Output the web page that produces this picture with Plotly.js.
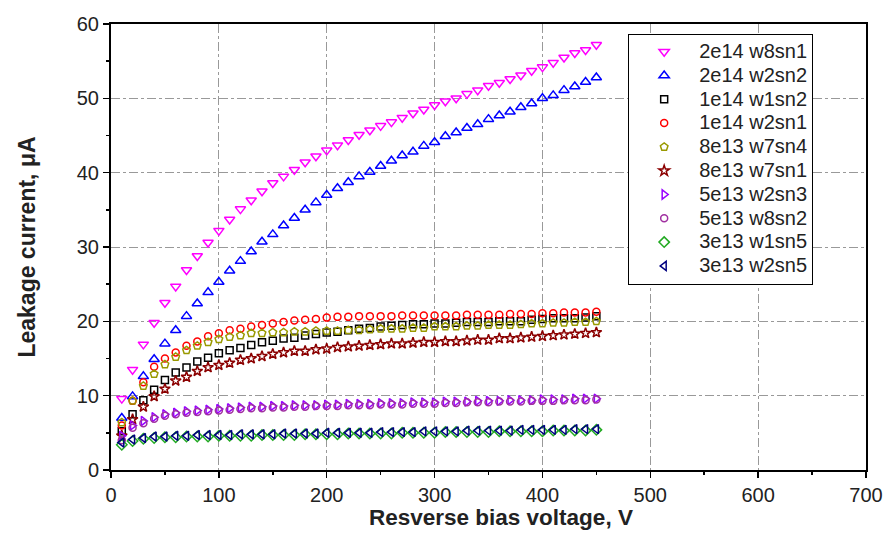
<!DOCTYPE html>
<html>
<head>
<meta charset="utf-8">
<script src="https://cdn.plot.ly/plotly-3.0.1.min.js"></script>
<style>html,body{margin:0;padding:0;background:#fff;}#chart{width:885px;height:550px;}</style>
</head>
<body>
<div id="chart"></div>
<script>
// Reverse bias voltage (V)
var voltage = [10,20,30,40,50,60,70,80,90,100,110,120,130,140,150,160,170,180,190,200,210,220,230,240,250,260,270,280,290,300,310,320,330,340,350,360,370,380,390,400,410,420,430,440,450];

// Leakage current (uA) per sample
var s_2e14_w8sn1 = [9.6,13.5,16.9,19.8,22.5,24.7,26.9,28.8,30.6,32.2,33.7,35.1,36.3,37.5,38.6,39.5,40.4,41.4,42.2,43.0,43.7,44.4,45.1,45.7,46.3,46.8,47.4,48.0,48.5,49.1,49.6,50.0,50.6,51.1,51.7,52.1,52.6,53.1,53.7,54.2,54.8,55.5,56.1,56.5,57.2];
var s_2e14_w2sn2 = [7.0,9.9,12.6,14.9,17.0,18.8,20.7,22.4,23.9,25.3,26.8,28.1,29.4,30.7,31.7,32.9,33.9,35.0,36.0,37.0,37.9,38.7,39.5,40.1,40.9,41.6,42.3,42.8,43.6,44.1,44.9,45.4,46.0,46.5,47.2,47.7,48.2,48.8,49.3,50.0,50.4,51.1,51.6,52.2,52.8];
var s_1e14_w1sn2 = [5.2,7.5,9.4,10.8,12.1,13.1,13.8,14.6,15.1,15.7,16.1,16.4,16.8,17.2,17.4,17.7,17.8,18.1,18.3,18.5,18.6,18.8,19.0,19.1,19.3,19.4,19.5,19.6,19.6,19.7,19.7,19.8,19.9,19.9,19.9,20.0,20.0,20.0,20.2,20.3,20.4,20.4,20.4,20.5,20.7];
var s_1e14_w2sn1 = [6.0,9.3,11.8,13.9,15.0,15.8,16.7,17.3,18.0,18.4,18.8,19.0,19.3,19.5,19.7,19.9,20.1,20.2,20.3,20.5,20.6,20.6,20.7,20.7,20.7,20.7,20.8,20.8,20.8,20.8,20.8,20.8,20.9,20.9,20.9,20.9,21.0,21.0,21.0,21.1,21.1,21.2,21.2,21.2,21.3];
var s_8e13_w7sn4 = [6.4,9.3,11.3,12.9,14.2,15.2,16.1,16.7,17.2,17.6,17.9,18.1,18.4,18.4,18.5,18.5,18.6,18.6,18.7,18.7,18.7,18.8,18.8,18.9,19.0,19.0,19.0,19.1,19.1,19.3,19.3,19.3,19.4,19.4,19.5,19.5,19.5,19.6,19.7,19.7,19.8,19.8,19.9,19.9,20.0];
var s_8e13_w7sn1 = [4.6,6.8,8.5,9.9,10.9,12.0,12.5,13.3,13.8,14.1,14.4,14.8,15.0,15.3,15.6,15.8,16.0,16.0,16.2,16.3,16.5,16.6,16.7,16.8,16.9,17.0,17.0,17.1,17.2,17.2,17.3,17.3,17.4,17.5,17.5,17.7,17.7,17.8,17.9,18.0,18.1,18.2,18.3,18.4,18.5];
var s_5e13_w2sn3 = [4.6,6.0,6.6,7.1,7.5,7.7,7.9,8.0,8.1,8.2,8.3,8.4,8.5,8.5,8.6,8.6,8.7,8.7,8.7,8.8,8.8,8.9,8.9,8.9,9.0,9.0,9.0,9.1,9.1,9.1,9.2,9.2,9.2,9.3,9.3,9.3,9.4,9.4,9.4,9.5,9.5,9.5,9.6,9.6,9.6];
var s_5e13_w8sn2 = [4.0,5.7,6.3,6.9,7.3,7.5,7.7,7.8,7.9,8.0,8.1,8.2,8.3,8.3,8.4,8.4,8.5,8.5,8.6,8.6,8.6,8.7,8.7,8.7,8.8,8.8,8.8,8.9,8.9,8.9,9.0,9.0,9.1,9.1,9.1,9.2,9.2,9.2,9.3,9.3,9.3,9.4,9.4,9.4,9.5];
var s_3e13_w1sn5 = [3.4,3.9,4.2,4.3,4.4,4.4,4.5,4.5,4.5,4.6,4.6,4.6,4.6,4.7,4.7,4.7,4.7,4.8,4.8,4.8,4.8,4.9,4.9,4.9,4.9,4.9,5.0,5.0,5.0,5.0,5.1,5.1,5.1,5.1,5.1,5.2,5.2,5.2,5.2,5.2,5.3,5.3,5.3,5.3,5.4];
var s_3e13_w2sn5 = [3.7,4.1,4.3,4.5,4.5,4.6,4.6,4.7,4.7,4.7,4.7,4.8,4.8,4.8,4.8,4.9,4.9,4.9,4.9,5.0,5.0,5.0,5.0,5.0,5.1,5.1,5.1,5.1,5.2,5.2,5.2,5.2,5.3,5.3,5.3,5.3,5.3,5.4,5.4,5.4,5.4,5.4,5.5,5.5,5.5];

var names = ['2e14 w8sn1','2e14 w2sn2','1e14 w1sn2','1e14 w2sn1','8e13 w7sn4','8e13 w7sn1','5e13 w2sn3','5e13 w8sn2','3e13 w1sn5','3e13 w2sn5'];
var series = [s_2e14_w8sn1,s_2e14_w2sn2,s_1e14_w1sn2,s_1e14_w2sn1,s_8e13_w7sn4,s_8e13_w7sn1,s_5e13_w2sn3,s_5e13_w8sn2,s_3e13_w1sn5,s_3e13_w2sn5];
var colors = ['#ff00ff','#0000ff','#000000','#ff0000','#999900','#8b0000','#9900ff','#a030a0','#22aa22','#000080'];
var symbols = ['triangle-down-open','triangle-up-open','square-open','circle-open','pentagon-open','star-open','triangle-right-open','circle-open','diamond-open','triangle-left-open'];
var sizes = [9,9,7,7,8,8,8,7,8,8];
var xTitle = 'Resverse bias voltage, V';
var yTitle = 'Leakage current, μA';

var traces = names.map(function(n,i){
  return {
    type:'scatter', mode:'markers', name:'<span style="font-size:20px">' + n + '</span>', x:voltage, y:series[i],
    marker:{symbol:symbols[i], size:sizes[i], color:colors[i], line:{color:colors[i], width:1.5}}
  };
});

var font = "'Liberation Sans', Arial, sans-serif";
var layout = {
  width:885, height:550,
  margin:{l:111, r:19, t:24, b:80},
  paper_bgcolor:'#fff', plot_bgcolor:'#fff',
  font:{family:font, size:20, color:'#222'},
  showlegend:true,
  legend:{x:0.685, y:0.978, xanchor:'left', yanchor:'top', bgcolor:'#fff', bordercolor:'#000', borderwidth:1,
          font:{family:font, size:16, color:'#222'}, itemwidth:60, tracegroupgap:0},
  xaxis:{range:[0,700], dtick:100, tick0:0, showline:true, linecolor:'#000', linewidth:2, mirror:true,
         ticks:'outside', ticklen:6, tickcolor:'#000', tickwidth:1.5,
         minor:{dtick:50, ticks:'outside', ticklen:3, tickcolor:'#000', showgrid:false},
         showgrid:true, gridcolor:'#999', gridwidth:1, griddash:'dashdot', zeroline:false,
         tickfont:{family:font, size:20, color:'#222'}},
  yaxis:{range:[0,60], dtick:10, tick0:0, showline:true, linecolor:'#000', linewidth:2, mirror:true,
         ticks:'outside', ticklen:6, tickcolor:'#000', tickwidth:1.5,
         minor:{dtick:5, ticks:'outside', ticklen:3, tickcolor:'#000', showgrid:false},
         showgrid:true, gridcolor:'#999', gridwidth:1, griddash:'dashdot', zeroline:false,
         tickfont:{family:font, size:20, color:'#222'},
         title:{text:'<b>' + yTitle + '</b>', font:{family:font, size:23, color:'#222'}, standoff:35}},
  annotations:[{text:'<b>' + xTitle + '</b>', xref:'paper', yref:'paper', x:0.517, y:-0.107,
                xanchor:'center', yanchor:'middle', showarrow:false,
                font:{family:font, size:22.5, color:'#222'}}]
};

Plotly.newPlot('chart', traces, layout, {displayModeBar:false, staticPlot:true});
</script>
</body>
</html>
